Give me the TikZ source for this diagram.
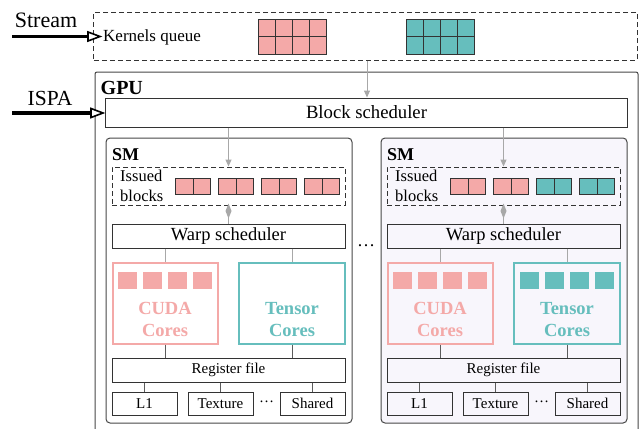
\documentclass[tikz,border=0pt]{standalone}
\usepackage{fontspec}
\setmainfont{Liberation Serif}
\usetikzlibrary{arrows.meta}
\definecolor{pinkc}{HTML}{F4A9A8}
\definecolor{tealc}{HTML}{66BEBD}
\definecolor{lav}{HTML}{F8F6FC}
\definecolor{grayl}{HTML}{A8A8A8}
\definecolor{darkl}{HTML}{333333}
\newcommand{\fs}[1]{\fontsize{#1bp}{#1bp}\selectfont}
\tikzset{
  box/.style={draw=darkl, line width=1bp, inner sep=0, minimum width=#1},
  dbox/.style={draw=darkl, line width=1bp, dashed, dash pattern=on 5bp off 3bp, inner sep=0},
  cell/.style={draw=darkl, line width=1bp, minimum width=17.5bp, minimum height=16bp, inner sep=0},
  sq/.style={minimum width=19bp, minimum height=17bp, inner sep=0},
  grayarrow/.style={draw=grayl, line width=1bp, -{Triangle[length=7bp,width=6bp]}},
  grayline/.style={draw=grayl, line width=1bp},
  darkline/.style={draw=darkl!80, line width=1bp},
  thickline/.style={draw=black, line width=3.2bp},
  openhead/.style={draw=black, line width=1.6bp, fill=white, line join=miter},
}
% #1 prefix, #2 x offset, #3 fill of SM, #4..#7 pair colours, #8 tensor squares (1/0)
\newcommand{\SMunit}[8]{%
  \begin{scope}[xshift=#2bp]
  \node[draw=darkl!90, line width=1bp, rounded corners=4bp, fill=#3, inner sep=0,
        minimum width=246bp, minimum height=285bp] (#1-sm) at (229,280.5) {};
  \node[anchor=west, font=\bfseries\fs{18}, inner sep=0] (#1-lbl) at (112,155) {SM};
  \node[dbox, minimum width=233bp, minimum height=38bp] (#1-iss) at (228.5,186) {};
  \node[align=left, font={\fontsize{16.5bp}{19.5bp}\selectfont}, inner sep=0, anchor=west] (#1-isst) at (120,186)
     {Issued\\blocks};
  \foreach \xx/\cc [count=\k] in {175/#4,218/#5,261/#6,304/#7}{
    \node[cell, fill=\cc, anchor=north west] (#1-c\k a) at (\xx,178) {};
    \node[cell, fill=\cc, anchor=north west] (#1-c\k b) at (\xx+17.5,178) {};
  }
  \node[box=233bp, minimum height=24bp, font=\fs{18.5}] (#1-warp) at (228.5,236) {Warp scheduler};
  \node[draw=pinkc, line width=2bp, inner sep=0, minimum width=105bp, minimum height=81bp] (#1-cuda) at (165,303) {};
  \node[draw=tealc, line width=2bp, inner sep=0, minimum width=106bp, minimum height=81bp] (#1-tens) at (292,303) {};
  \foreach \xx [count=\k] in {118,143,168,193}{
    \node[sq, fill=pinkc, anchor=north west] (#1-p\k) at (\xx,272) {};
  }
  \ifnum#8=1
  \foreach \xx [count=\k] in {245,270,295,320}{
    \node[sq, fill=tealc, anchor=north west] (#1-t\k) at (\xx,272) {};
  }
  \fi
  \node[align=center, text=pinkc, font={\bfseries\fontsize{18.5bp}{22bp}\selectfont}, inner sep=0] (#1-cudat) at (165,319.5)
     {CUDA\\Cores};
  \node[align=center, text=tealc, font={\bfseries\fontsize{18.5bp}{22bp}\selectfont}, inner sep=0] (#1-tenst) at (292,319.5)
     {Tensor\\Cores};
  \node[box=233bp, minimum height=24bp, font=\fs{15}] (#1-reg) at (228.5,370) {Register file};
  \node[box=65bp, minimum height=23bp, font=\fs{15}] (#1-l1) at (144.5,403.5) {L1};
  \node[box=65bp, minimum height=23bp, font=\fs{15}] (#1-tex) at (220.5,403.5) {Texture};
  \node[box=65bp, minimum height=23bp, font=\fs{15}] (#1-sh) at (312.5,403.5) {Shared};
  \node[font=\fs{15}, inner sep=0] (#1-dots) at (266.5,402) {\dots};
  % connectors
  \draw[grayline] (#1-iss.south) -- (#1-warp.north);
  \fill[grayl] ([yshift=2bp]#1-iss.south) -- ++(3,7.5) -- ++(-3,7.5) -- ++(-3,-7.5) -- cycle;
  \draw[grayline] (#1-warp.south -| #1-cuda.north) -- (#1-cuda.north);
  \draw[grayline] (#1-warp.south -| #1-tens.north) -- (#1-tens.north);
  \draw[darkline] (#1-cuda.south) -- (#1-reg.north -| #1-cuda.south);
  \draw[darkline] (#1-tens.south) -- (#1-reg.north -| #1-tens.south);
  \draw[darkline] (#1-reg.south -| #1-l1.north) -- (#1-l1.north);
  \draw[darkline] (#1-reg.south -| #1-tex.north) -- (#1-tex.north);
  \draw[darkline] (#1-reg.south -| #1-sh.north) -- (#1-sh.north);
  \end{scope}
}
\begin{document}
\begin{tikzpicture}[x=1bp, y=-1bp]
\useasboundingbox (0,0) rectangle (641,428);
\fill[white] (0,0) rectangle (641,428);
\begin{scope}
\clip (0,0) rectangle (641,428);
% stream / queue
\node[dbox, minimum width=543bp, minimum height=48bp] (queue) at (365.5,36) {};
\node[anchor=west, font=\fs{17}, inner sep=0] (kq) at (103,37) {Kernels queue};
\foreach \cx [count=\k] in {0,1,2,3}{
  \node[cell, minimum width=17bp, minimum height=17.5bp, fill=pinkc, anchor=north west] (qa\k) at (258+17*\cx,18.5) {};
  \node[cell, minimum width=17bp, minimum height=17.5bp, fill=pinkc, anchor=north west] (qb\k) at (258+17*\cx,36) {};
  \node[cell, minimum width=17bp, minimum height=17.5bp, fill=tealc, anchor=north west] (qc\k) at (405.5+17*\cx,18.5) {};
  \node[cell, minimum width=17bp, minimum height=17.5bp, fill=tealc, anchor=north west] (qd\k) at (405.5+17*\cx,36) {};
}
\node[font=\fs{22}, inner sep=0] (stream) at (46,20) {Stream};
\coordinate (sstart) at (12,36.5);
% GPU
\draw[draw=darkl!90, line width=1bp, rounded corners=2bp] (95,440) -- (95,72) -- (638,72) -- (638,440);
\node[anchor=west, font=\bfseries\fs{20}, inner sep=0] (gpu) at (100.5,87.5) {GPU};
\node[box=521bp, minimum height=29bp, font=\fs{18.7}] (bs) at (366.5,112.5) {Block scheduler};
\node[font=\fs{21.5}, inner sep=0] (ispa) at (50,98) {ISPA};
\coordinate (istart) at (12,113);
\draw[grayarrow] (queue.south -| 367,0) -- (bs.north -| 367,0);
% SMs
\SMunit{L}{0}{white}{pinkc}{pinkc}{pinkc}{pinkc}{0}
\SMunit{R}{275}{lav}{pinkc}{pinkc}{tealc}{tealc}{1}
\draw[grayarrow] (bs.south -| L-iss.north) -- (L-iss.north);
\draw[grayarrow] (bs.south -| R-iss.north) -- (R-iss.north);
\node[font=\fs{18}, inner sep=0] (midots) at (366,246) {\dots};
\end{scope}
% input arrows
\coordinate (stip) at ([xshift=-3bp]kq.west |- sstart);
\coordinate (itip) at ([xshift=-2.5bp]bs.west |- istart);
\draw[thickline] (sstart) -- ([xshift=-9bp]stip);
\draw[openhead] (stip) -- ++(-12,-4.5) -- ++(0,9) -- cycle;
\draw[thickline] (istart) -- ([xshift=-9bp]itip);
\draw[openhead] (itip) -- ++(-12,-4.5) -- ++(0,9) -- cycle;
\end{tikzpicture}
\end{document}
